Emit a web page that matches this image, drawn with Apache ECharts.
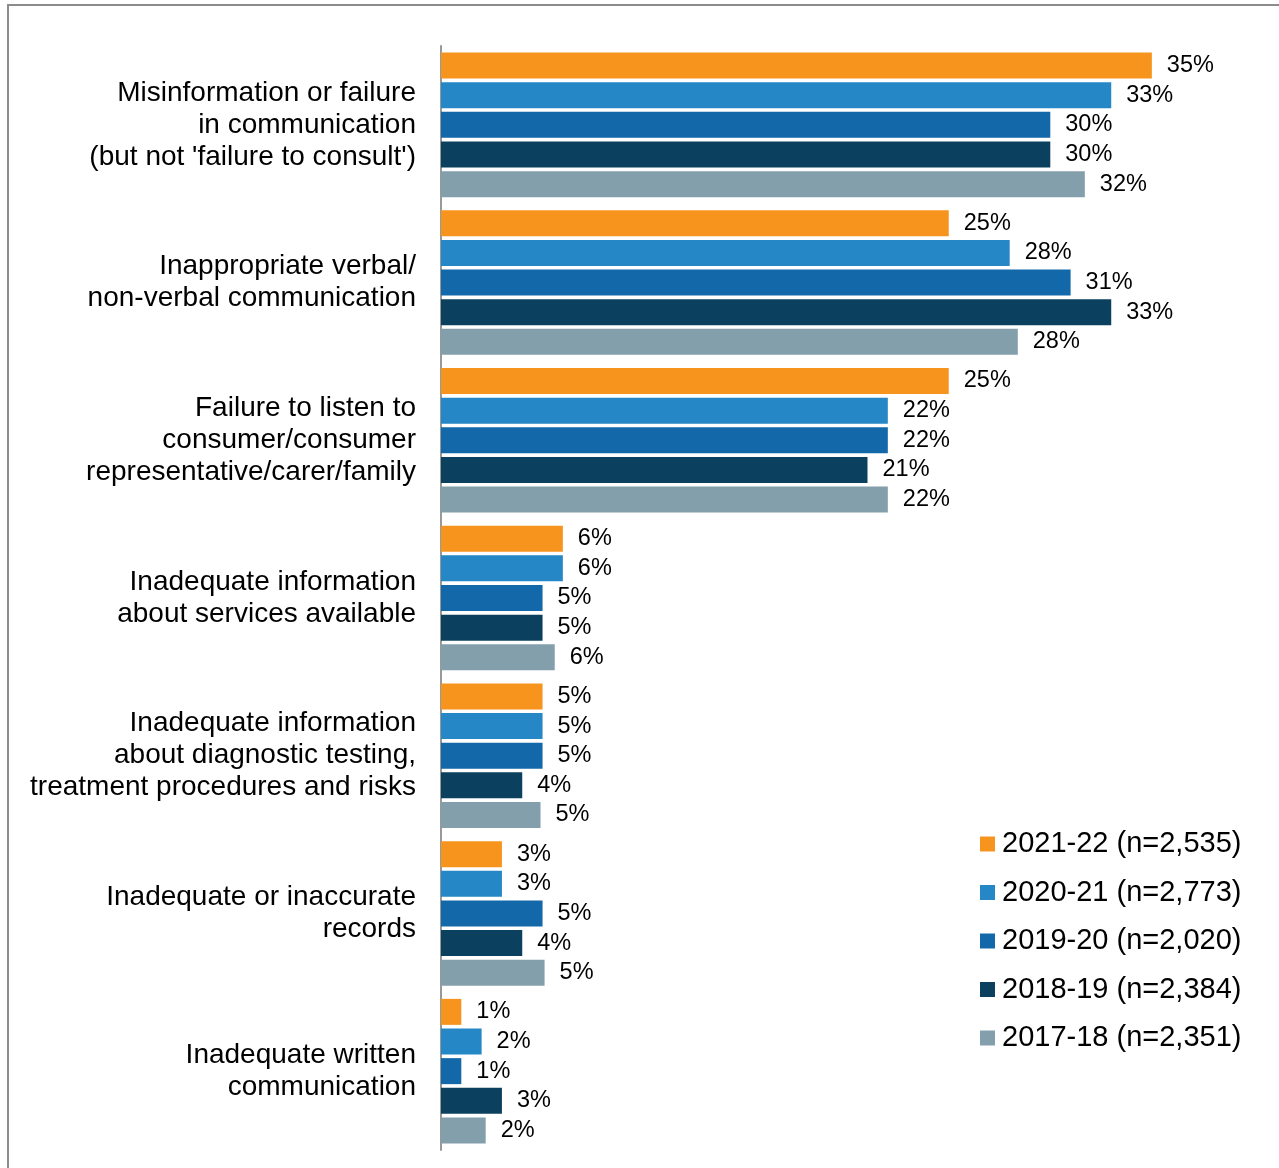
<!DOCTYPE html>
<html><head><meta charset="utf-8">
<script src="https://cdn.jsdelivr.net/npm/echarts@6/dist/echarts.min.js"></script>
<style>
html,body{margin:0;padding:0;background:#fff;}
#frame{position:absolute;left:7px;top:4px;width:1290px;height:1200px;border:2px solid #8c8c8c;box-sizing:border-box;}
#c{position:absolute;left:0;top:0;width:1279px;height:1168px;}
</style></head>
<body>
<div id="frame"></div>
<div id="c"></div>
<script>
const categories = [
  "Misinformation or failure\nin communication\n(but not 'failure to consult')",
  "Inappropriate verbal/\nnon-verbal communication",
  "Failure to listen to\nconsumer/consumer\nrepresentative/carer/family",
  "Inadequate information\nabout services available",
  "Inadequate information\nabout diagnostic testing,\ntreatment procedures and risks",
  "Inadequate or inaccurate\nrecords",
  "Inadequate written\ncommunication"
];
const seriesNames = ["2021-22 (n=2,535)", "2020-21 (n=2,773)", "2019-20 (n=2,020)", "2018-19 (n=2,384)", "2017-18 (n=2,351)"];
const colors = ["#F7941D", "#2587C5", "#1268A8", "#0B405E", "#849FAC"];
const v2122 = [35, 25, 25, 6, 5, 3, 1];
const v2021 = [33, 28, 22, 6, 5, 3, 2];
const v1920 = [30, 31, 22, 5, 5, 5, 1];
const v1819 = [30, 33, 21, 5, 4, 4, 3];
const v1718 = [31.7, 28.4, 22, 5.6, 4.9, 5.1, 2.2];
const allValues = [v2122, v2021, v1920, v1819, v1718];

const chart = echarts.init(document.getElementById('c'));
chart.setOption({
  animation: false,
  legend: {
    orient: 'vertical',
    left: 980, top: 829,
    padding: 0,
    icon: 'rect',
    itemWidth: 15, itemHeight: 15,
    itemGap: 18.5,
    textStyle: { fontFamily: 'Liberation Sans, Arial', fontSize: 29, lineHeight: 30, color: '#000', padding: [0,0,0,2] },
    data: seriesNames
  },
  grid: { left: 441, right: 25.6, top: 46, bottom: 18, containLabel: false },
  xAxis: {
    type: 'value', min: 0, max: 40, show: false
  },
  yAxis: {
    type: 'category', inverse: true, data: categories,
    axisLine: { show: true, lineStyle: { color: '#999', width: 2 } },
    axisTick: { show: false },
    axisLabel: {
      fontFamily: 'Liberation Sans, Arial', fontSize: 28, color: '#000',
      lineHeight: 32, margin: 25, align: 'right'
    }
  },
  series: allValues.map((vals, i) => ({
    name: seriesNames[i],
    type: 'bar',
    data: vals,
    barWidth: 26,
    barGap: '14%',
    itemStyle: { color: colors[i] },
    label: {
      show: true, position: 'right', distance: 15,
      formatter: p => Math.round(p.value) + '%',
      fontFamily: 'Liberation Sans, Arial', fontSize: 23.5, color: '#000'
    }
  }))
});
</script>
</body></html>
